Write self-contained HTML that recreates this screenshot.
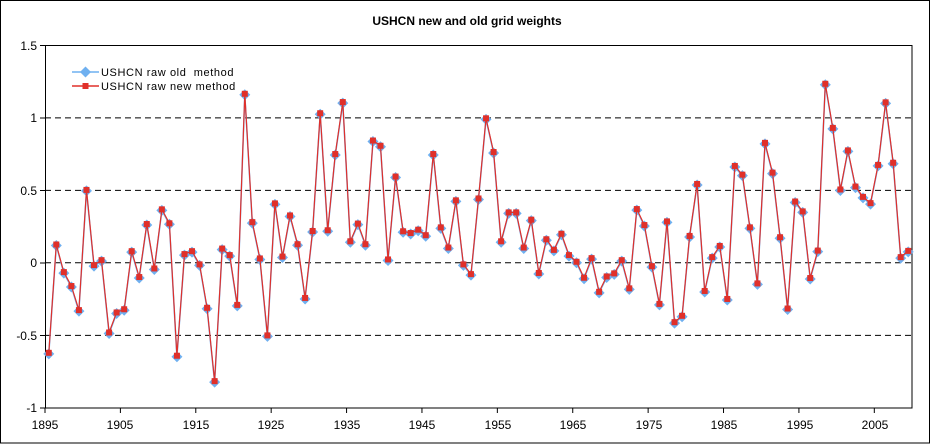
<!DOCTYPE html>
<html><head><meta charset="utf-8"><style>
html,body{margin:0;padding:0;background:#fff;}
svg{display:block;font-family:"Liberation Sans","DejaVu Sans",sans-serif;}
</style></head><body>
<svg id="c" width="934" height="444" viewBox="0 0 934 444" xmlns="http://www.w3.org/2000/svg">
<rect x="0.5" y="0.5" width="929" height="442.5" fill="#fff" stroke="#000" stroke-width="1"/>
<text x="467" y="25" text-anchor="middle" font-size="12" font-weight="bold">USHCN new and old grid weights</text>
<g stroke="#000" stroke-width="1" stroke-dasharray="6,4">
<line x1="45" x2="912" y1="117.9" y2="117.9"/>
<line x1="45" x2="912" y1="190.4" y2="190.4"/>
<line x1="45" x2="912" y1="262.8" y2="262.8"/>
<line x1="45" x2="912" y1="335.4" y2="335.4"/>
</g>
<rect x="45.5" y="45.5" width="866.5" height="362.5" fill="none" stroke="#000" stroke-width="1"/>
<g font-size="12" text-anchor="end">
<text x="37" y="50">1.5</text>
<text x="37" y="122">1</text>
<text x="37" y="195">0.5</text>
<text x="37" y="267">0</text>
<text x="37" y="340">-0.5</text>
<text x="37" y="412">-1</text>
</g>
<g font-size="12" text-anchor="middle">
<text x="45" y="429">1895</text><text x="120" y="429">1905</text><text x="196" y="429">1915</text>
<text x="271" y="429">1925</text><text x="347" y="429">1935</text><text x="422" y="429">1945</text>
<text x="498" y="429">1955</text><text x="573" y="429">1965</text><text x="649" y="429">1975</text>
<text x="724" y="429">1985</text><text x="800" y="429">1995</text><text x="875" y="429">2005</text>
</g>
<g id="ticks" stroke="#000"></g>
<g id="ser"></g>
<g font-size="11" letter-spacing="0.6">
<line x1="72" x2="99" y1="72" y2="72" stroke="#6fb0f0" stroke-width="1.5"/>
<path d="M85.5 66.5 L91 72 L85.5 77.5 L80 72Z" fill="#6fb0f0"/>
<text x="101" y="76" xml:space="preserve">USHCN raw old  method</text>
<line x1="72" x2="99" y1="86" y2="86" stroke="#e0302a" stroke-width="1.5"/>
<rect x="82.5" y="83" width="6" height="6" fill="#e0302a"/>
<text x="101" y="90">USHCN raw new method</text>
</g>
</svg>
<script>
var v=[-0.62,0.126,-0.064,-0.16,-0.326,0.502,-0.016,0.018,-0.48,-0.342,-0.32,0.08,-0.098,0.267,-0.039,0.368,0.272,-0.64,0.06,0.08,-0.011,-0.31,-0.815,0.098,0.053,-0.29,1.164,0.28,0.03,-0.5,0.409,0.043,0.326,0.128,-0.242,0.219,1.03,0.224,0.749,1.107,0.148,0.27,0.128,0.842,0.806,0.023,0.594,0.217,0.205,0.228,0.19,0.749,0.244,0.105,0.43,-0.011,-0.078,0.443,0.995,0.763,0.148,0.347,0.347,0.105,0.297,-0.07,0.162,0.089,0.2,0.053,0.007,-0.103,0.032,-0.2,-0.094,-0.073,0.018,-0.176,0.37,0.26,-0.023,-0.283,0.285,-0.409,-0.365,0.185,0.543,-0.194,0.039,0.116,-0.249,0.667,0.607,0.244,-0.142,0.826,0.621,0.176,-0.315,0.422,0.354,-0.105,0.084,1.233,0.929,0.505,0.774,0.525,0.454,0.411,0.674,1.105,0.689,0.039,0.082];
var w=867/115;
function X(i){return 45+(i+0.5)*w;}function Y(a){return 262.8-a*145.2;}
var t=document.getElementById("ticks"),s="";
for(var k=0;k<=11;k++){var x=45+k*10*w;s+='<line x1="'+x+'" x2="'+x+'" y1="408" y2="413"/>';}
for(var k=0;k<6;k++){var y=45.5+k*72.5;s+='<line x1="40" x2="45" y1="'+y+'" y2="'+y+'"/>';}
t.innerHTML=s;
var pb="",pr="",mk="";
for(var i=0;i<v.length;i++){var x=X(i).toFixed(1),y=Y(v[i]).toFixed(1);pb+=x+","+(+y+1)+" ";pr+=x+","+y+" ";}
mk+='<polyline points="'+pb+'" fill="none" stroke="#6fb0f0" stroke-width="1.5"/>';
for(var i=0;i<v.length;i++){var x=X(i),y=Y(v[i])+1;mk+='<path d="M'+x+' '+(y-5.5)+'L'+(x+5.5)+' '+y+'L'+x+' '+(y+5.5)+'L'+(x-5.5)+' '+y+'Z" fill="#6fb0f0"/>';}
mk+='<polyline points="'+pr+'" fill="none" stroke="#e0302a" stroke-width="1.2"/>';
for(var i=0;i<v.length;i++){var x=X(i),y=Y(v[i]);mk+='<rect x="'+(x-3)+'" y="'+(y-3)+'" width="6" height="6" fill="#e0302a"/>';}
document.getElementById("ser").innerHTML=mk;
</script>
</body></html>
